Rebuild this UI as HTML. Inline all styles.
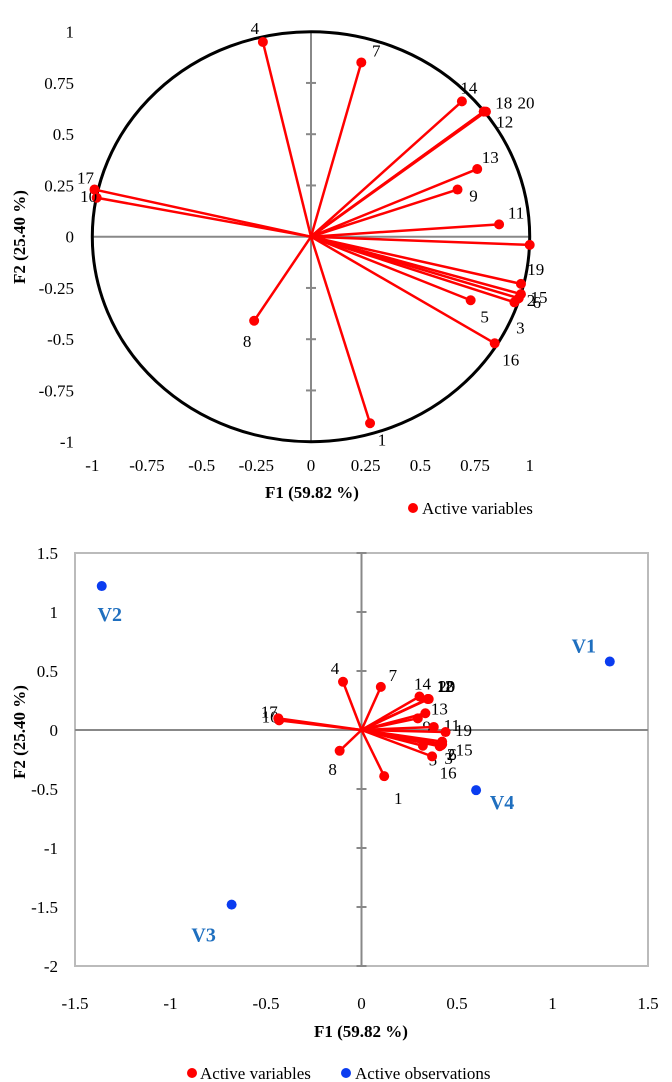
<!DOCTYPE html>
<html><head><meta charset="utf-8"><style>
html,body{margin:0;padding:0;background:#fff;}
svg{display:block;font-family:"Liberation Serif",serif;}
</style></head><body>
<svg width="672" height="1082" viewBox="0 0 672 1082">
<g id="top"></g>
<g id="bot"></g>
</svg>
<script>
const varLabels=["1","2","3","4","5","6","7","8","9","10","11","12","13","14","15","16","17","18","19","20"];
const varF1=[0.27,0.96,0.93,-0.22,0.73,0.95,0.23,-0.26,0.67,-0.98,0.86,0.79,0.76,0.69,0.96,0.84,-0.99,0.79,1.0,0.80];
const varF2=[-0.91,-0.28,-0.32,0.95,-0.31,-0.30,0.85,-0.41,0.23,0.19,0.06,0.61,0.33,0.66,-0.23,-0.52,0.23,0.61,-0.04,0.61];
const obsLabels=["V1","V2","V3","V4"];
const obsF1=[1.30,-1.36,-0.68,0.60];
const obsF2=[0.58,1.22,-1.48,-0.51];
const biF1Scale=0.44, biF2Scale=0.43;
const topXTicks=[-1,-0.75,-0.5,-0.25,0,0.25,0.5,0.75,1];
const topYTicks=[-1,-0.75,-0.5,-0.25,0,0.25,0.5,0.75,1];
const botXTicks=[-1.5,-1,-0.5,0,0.5,1,1.5];
const botYTicks=[-2,-1.5,-1,-0.5,0,0.5,1,1.5];
const topLab={"1":[12,16],"2":[10,6],"3":[6,25],"4":[-8,-14],"5":[14,16],"6":[18,4],"7":[15,-12],"8":[-7,20],"9":[16,6],"10":[-8,-2],"11":[17,-12],"12":[21,10],"13":[13,-12],"14":[7,-14],"15":[18,13],"16":[16,16],"17":[-9,-12],"18":[20,-9],"19":[6,24],"20":[40,-9]};
const botLab={"1":[14,22],"2":[9,10],"3":[9,12],"4":[-8,-14],"5":[10,14],"6":[11,9],"7":[12,-12],"8":[-7,18],"9":[9,8],"10":[-9,-4],"11":[18,-2],"12":[17,-13],"13":[14,-5],"14":[3,-13],"15":[22,8],"16":[16,16],"17":[-9,-7],"18":[18,-13],"19":[18,-2],"20":[18,-13]};
const NS="http://www.w3.org/2000/svg";
function mk(p,t,a,txt){const e=document.createElementNS(NS,t);for(const k in a)e.setAttribute(k,a[k]);if(txt!==undefined)e.textContent=txt;p.appendChild(e);return e;}
function fmt(v){return String(v);}
const T=document.getElementById('top');
const tx=v=>311+v*218.7, ty=v=>236.7-v*205;
let e;
e=mk(T,'line',{x1:tx(-1),y1:ty(0),x2:tx(1),y2:ty(0),stroke:'#888','stroke-width':2});

e=mk(T,'line',{x1:tx(0),y1:ty(1),x2:tx(0),y2:ty(-1),stroke:'#888','stroke-width':2});

topXTicks.forEach(v=>{
 e=mk(T,'text',{x:tx(v),y:471,'text-anchor':'middle','font-size':17},fmt(v));
 
});
topYTicks.forEach(v=>{
 e=mk(T,'line',{x1:tx(0)-5,y1:ty(v),x2:tx(0)+5,y2:ty(v),stroke:'#888','stroke-width':2});
 
 e=mk(T,'text',{x:74,y:ty(v)+6,'text-anchor':'end','font-size':17},fmt(v));
 
});
e=mk(T,'ellipse',{cx:tx(0),cy:ty(0),rx:218.7,ry:205,fill:'none',stroke:'#000','stroke-width':3});

varLabels.forEach((l,i)=>{
 const x=tx(varF1[i]),y=ty(varF2[i]);
 e=mk(T,'line',{x1:tx(0),y1:ty(0),x2:x,y2:y,stroke:'#f00','stroke-width':2.5});
 
 e=mk(T,'circle',{cx:x,cy:y,r:5,fill:'#f00'});
 
 const o=topLab[l]||[10,-8];
 e=mk(T,'text',{x:x+o[0],y:y+o[1]+6,'text-anchor':'middle','font-size':17},l);
 
});
e=mk(T,'text',{x:312,y:498,'text-anchor':'middle','font-size':17,'font-weight':'bold'},'F1 (59.82 %)');

e=mk(T,'text',{x:0,y:0,'text-anchor':'middle','font-size':17,'font-weight':'bold',transform:'translate(25,237) rotate(-90)'},'F2 (25.40 %)');

e=mk(T,'circle',{cx:413,cy:508,r:5,fill:'#f00'});

e=mk(T,'text',{x:422,y:514,'font-size':17},'Active variables');

const B=document.getElementById('bot');
const bx=v=>361.5+v*191, by=v=>730-v*118;
e=mk(B,'rect',{x:75,y:553,width:573,height:413,fill:'none',stroke:'#bbb','stroke-width':2});

e=mk(B,'line',{x1:75,y1:by(0),x2:648,y2:by(0),stroke:'#888','stroke-width':2});

e=mk(B,'line',{x1:bx(0),y1:553,x2:bx(0),y2:966,stroke:'#888','stroke-width':2});

botXTicks.forEach(v=>{
 e=mk(B,'text',{x:bx(v),y:1009,'text-anchor':'middle','font-size':17},fmt(v));
 
});
botYTicks.forEach(v=>{
 e=mk(B,'line',{x1:bx(0)-5,y1:by(v),x2:bx(0)+5,y2:by(v),stroke:'#888','stroke-width':2});
 
 e=mk(B,'text',{x:58,y:by(v)+6,'text-anchor':'end','font-size':17},fmt(v));
 
});
varLabels.forEach((l,i)=>{
 const x=bx(varF1[i]*biF1Scale),y=by(varF2[i]*biF2Scale);
 e=mk(B,'line',{x1:bx(0),y1:by(0),x2:x,y2:y,stroke:'#f00','stroke-width':2.5});
 
 e=mk(B,'circle',{cx:x,cy:y,r:5,fill:'#f00'});
 
 const o=botLab[l]||[10,-8];
 e=mk(B,'text',{x:x+o[0],y:y+o[1]+6,'text-anchor':'middle','font-size':17},l);
 
});
const obsOff=[[-26,-16],[8,28],[-28,30],[26,12]];
obsLabels.forEach((l,i)=>{
 const x=bx(obsF1[i]),y=by(obsF2[i]);
 e=mk(B,'circle',{cx:x,cy:y,r:5,fill:'#0a3cf0'});
 
 e=mk(B,'text',{x:x+obsOff[i][0],y:y+obsOff[i][1]+7,'text-anchor':'middle','font-size':20,'font-weight':'bold',fill:'#1f6fbf'},l);
 
});
e=mk(B,'text',{x:361,y:1037,'text-anchor':'middle','font-size':17,'font-weight':'bold'},'F1 (59.82 %)');

e=mk(B,'text',{x:0,y:0,'text-anchor':'middle','font-size':17,'font-weight':'bold',transform:'translate(25,732) rotate(-90)'},'F2 (25.40 %)');

e=mk(B,'circle',{cx:192,cy:1073,r:5,fill:'#f00'});

e=mk(B,'text',{x:200,y:1079,'font-size':17},'Active variables');

e=mk(B,'circle',{cx:346,cy:1073,r:5,fill:'#0a3cf0'});

e=mk(B,'text',{x:355,y:1079,'font-size':17},'Active observations');

</script>
</body></html>
